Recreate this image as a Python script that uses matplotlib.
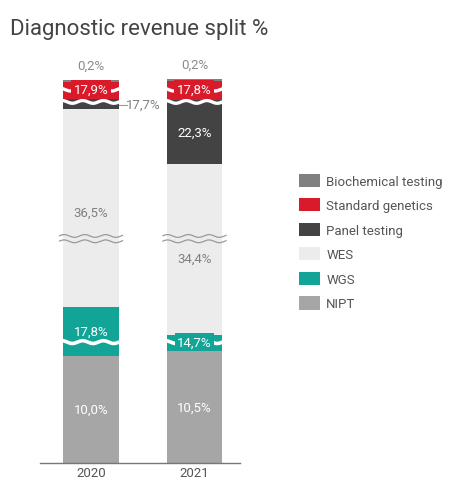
import numpy as np
import matplotlib
matplotlib.use("Agg")
import matplotlib.pyplot as plt

plt.rcParams['font.family'] = ['Roboto', 'DejaVu Sans']

years = ['2020', '2021']
# stacked from the bottom up
categories = ['NIPT', 'WGS', 'WES', 'Panel testing', 'Standard genetics', 'Biochemical testing']
nipt = [10.0, 10.5]
wgs = [17.8, 14.7]
wes = [36.5, 34.4]
panel = [17.7, 22.3]
standard = [17.9, 17.8]
biochem = [0.2, 0.2]
# share (in %) hidden by the axis breaks in each segment
nipt_cut = [0.0, 0.0]
wgs_cut = [13.2, 13.2]
wes_cut = [18.0, 18.5]
panel_cut = [16.77, 16.23]
standard_cut = [16.3, 16.1]
biochem_cut = [0.0, 0.0]

colors = ['#a6a6a6', '#12a597', '#ececec', '#434343', '#d91a2a', '#808080']
label_colors = ['white', 'white', '#808080', 'white', 'white', '#8a8a8a']

values = [nipt, wgs, wes, panel, standard, biochem]
cuts = [nipt_cut, wgs_cut, wes_cut, panel_cut, standard_cut, biochem_cut]

fig = plt.figure(figsize=(4.5, 4.81), dpi=100)
ax = fig.add_axes([40 / 450, 17 / 481, 200 / 450, 404 / 481])

x = np.arange(len(years))
w = 0.54
bottom = np.zeros(len(years))
handles = []
seg_pos = []
for vals, cut, col, name in zip(values, cuts, colors, categories):
    shown = np.array(vals) - np.array(cut)
    b = ax.bar(x, shown, w, bottom=bottom, color=col, label=name, zorder=2)
    handles.append(b)
    seg_pos.append((bottom.copy(), shown.copy()))
    bottom = bottom + shown


def wave(xc, level, ext, color, lw, z):
    xs = np.linspace(xc - w / 2 - ext, xc + w / 2 + ext, 200)
    ys = level + 0.13 * np.sin(2 * np.pi * (xs - xs[0]) / 0.2)
    ax.plot(xs, ys, color=color, lw=lw, zorder=z, solid_capstyle='butt')


for xi in x:
    # breaks in WGS, WES, panel/standard and standard
    wave(xi, 11.3, 0.06, 'white', 2.6, 3)
    wave(xi, 20.72, 0.04, '#9a9a9a', 0.9, 3)
    wave(xi, 21.22, 0.04, '#9a9a9a', 0.9, 3)
    wave(xi, 33.75, 0.06, 'white', 2.4, 3)
    wave(xi, 34.9, 0.08, 'white', 2.4, 3)

fmt = lambda v: f'{v:.1f}'.replace('.', ',') + '%'
# small vertical nudges (points) for the WES labels, away from the break
wes_nudge = [-3, -6]

for k, (vals, col, lc) in enumerate(zip(values, colors, label_colors)):
    bot, sh = seg_pos[k]
    for i in range(len(years)):
        name = categories[k]
        y = bot[i] + sh[i] / 2
        box = None
        dy = 0
        if name == 'Biochemical testing':
            ax.annotate(fmt(vals[i]), (x[i], bot[i] + sh[i]), xytext=(0, 6),
                        textcoords='offset points', ha='center', va='bottom',
                        fontsize=9.5, color=lc, zorder=5)
            continue
        if name == 'Panel testing' and i == 0:
            ax.plot([x[i] + w / 2, x[i] + w / 2 + 0.08], [33.5, 33.5], color='#999999', lw=0.8, zorder=4)
            ax.text(x[i] + 0.51, 33.55, fmt(vals[i]), ha='center', va='center',
                    fontsize=9.5, color='#808080', zorder=5)
            continue
        if name == 'WES':
            dy = wes_nudge[i]
        if name == 'Standard genetics':
            y = 34.9
            box = dict(boxstyle='square,pad=0.2', fc=col, ec='none')
        if name == 'WGS' and i == 1:
            y = 11.3
            box = dict(boxstyle='square,pad=0.2', fc=col, ec='none')
        ax.annotate(fmt(vals[i]), (x[i], y), xytext=(0, dy), textcoords='offset points',
                    ha='center', va='center', fontsize=9.5, color=lc, bbox=box, zorder=5)

ax.set_xlim(-0.493, 1.44)
ax.set_ylim(0, 37.76)
ax.set_xticks(x)
ax.set_xticklabels(years, fontsize=9.5, color='#555555')
ax.tick_params(axis='x', length=0, pad=2.5)
ax.set_yticks([])
for s in ['top', 'right', 'left']:
    ax.spines[s].set_visible(False)
ax.spines['bottom'].set_color('#777777')
ax.spines['bottom'].set_linewidth(1.0)

fig.legend(handles[::-1], categories[::-1], loc='upper left',
           bbox_to_anchor=(292 / 450, 1 - 168 / 481), frameon=False,
           fontsize=9.5, labelcolor='#555555', handlelength=1.6,
           handleheight=1.15, labelspacing=0.8, handletextpad=0.5, borderpad=0)

fig.text(10 / 450, 1 - 30 / 481, 'Diagnostic revenue split %', fontsize=16,
         color='#444444', va='center', ha='left')

fig.savefig('out.png', dpi=100)
